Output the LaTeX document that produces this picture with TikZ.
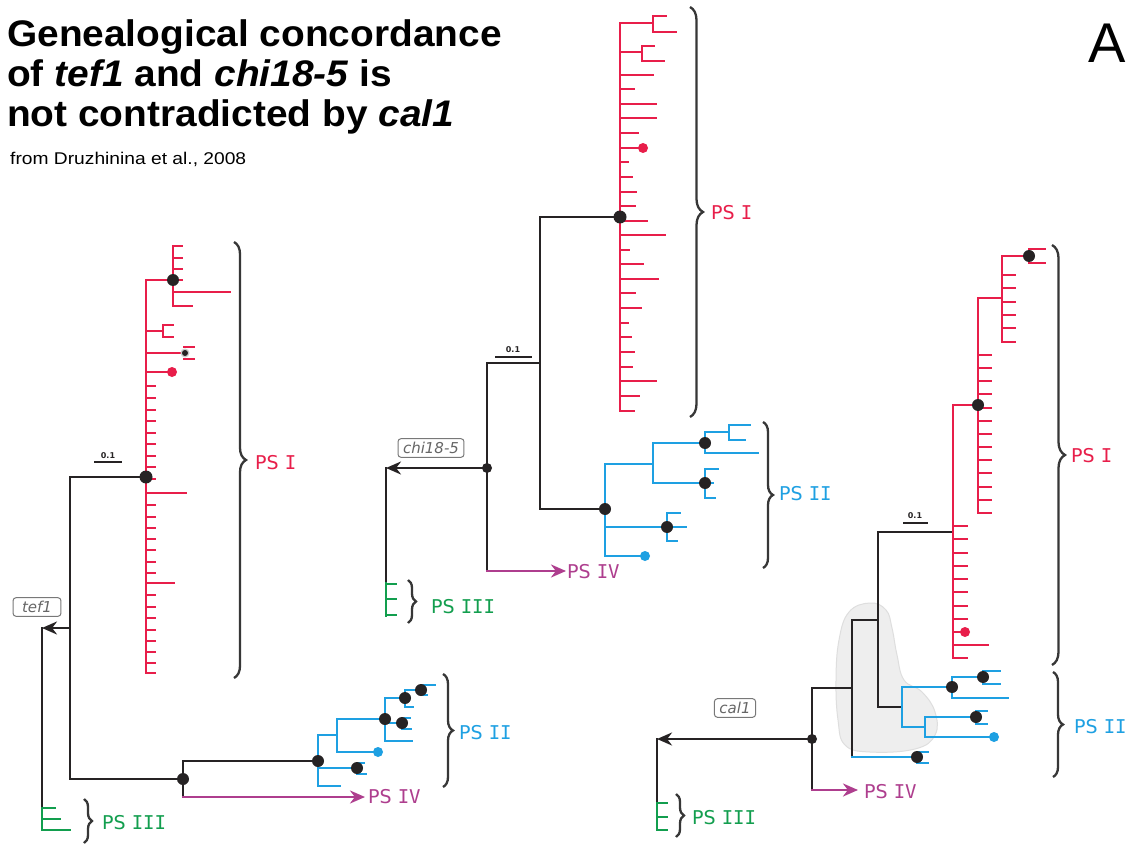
\documentclass[tikz,border=0pt]{standalone}
\usepackage{fontspec}
\setmainfont{Liberation Sans}
\newfontfamily\psfont[ItalicFont={DejaVu Sans Oblique},BoldFont={DejaVu Sans Bold}]{DejaVu Sans}
\newfontfamily\psmono{DejaVu Sans Mono}
\usetikzlibrary{arrows.meta,decorations.pathreplacing}
\definecolor{psred}{RGB}{232,30,74}
\definecolor{psblue}{RGB}{30,160,226}
\definecolor{psgreen}{RGB}{18,158,78}
\definecolor{pspurple}{RGB}{174,62,142}
\definecolor{ink}{RGB}{38,35,36}
\definecolor{brk}{RGB}{55,55,55}
\definecolor{boxgray}{RGB}{120,120,120}
\definecolor{blobfill}{RGB}{238,238,238}
\definecolor{blobline}{RGB}{222,222,222}
\newcommand{\psl}[1]{{\psfont PS }{\psmono #1}}
\tikzset{
  tree/.style={line width=2.8pt, line cap=rect, line join=miter},
  blk/.style={tree, draw=ink},
  rd/.style={tree, draw=psred},
  bl/.style={tree, draw=psblue},
  gr/.style={tree, draw=psgreen},
  pu/.style={tree, draw=pspurple},
  arr/.style={-{Stealth[length=15pt,width=13pt]}},
  brc/.style={draw=brk, line width=2.3pt, decorate, decoration={brace, amplitude=#1}},
  pslab/.style={anchor=west, inner sep=0pt, font=\fontsize{19}{19}\selectfont},
  genebox/.style={draw=boxgray, rounded corners=3pt, line width=1pt, text=boxgray!85!black,
     font=\psfont\itshape\fontsize{15}{15}\selectfont, inner xsep=5pt, inner ysep=3.5pt},
  titl/.style={anchor=base west, inner sep=0pt, font=\fontsize{37}{37}\selectfont\bfseries, xscale=1.05, transform shape},
  scl/.style={font=\psfont\bfseries\fontsize{8}{8}\selectfont, text=ink, inner sep=0pt},
}
\newcommand{\bdot}[2]{\fill[ink] (#1,#2) circle (6pt);}
\newcommand{\sdot}[2]{\fill[ink] (#1,#2) circle (5pt);}
\begin{document}
\begin{tikzpicture}[x=1pt,y=-1pt]
\useasboundingbox (0,0) rectangle (1133,845);
\fill[white] (0,0) rectangle (1133,845);

% ---------- title
\node[titl] (t1) at (7,47) {Genealogical concordance};
\node[titl] (t2) at (7,87) {of \textit{tef1} and \textit{chi18-5} is};
\node[titl] (t3) at (7,127) {not contradicted by \textit{cal1}};
\node[anchor=base west, inner sep=0pt, font=\fontsize{17}{17}\selectfont, xscale=1.13, transform shape] (t4) at (10,165) {from Druzhinina et al., 2008};
\node[anchor=base west, inner sep=0pt, font=\fontsize{56}{56}\selectfont] (panel) at (1088,63) {A};

% ---------- gray blob (right tree)
\filldraw[fill=blobfill, draw=blobline, line width=1pt] plot[smooth cycle, tension=0.7] coordinates {(870,603) (886,610) (892,628) (897,655) (904,680) (922,692) (935,712) (935,735) (915,749) (870,752) (845,745) (838,720) (836,680) (839,640) (849,612)};

% =========== LEFT TREE (tef1)
\coordinate (Lroot) at (70,628);
\coordinate (Lpsi) at (146,477);
\coordinate (Lb) at (183,779);
\coordinate (Lii) at (318,761);
\coordinate (Lend) at (42,628);
\draw[blk] (Lpsi) -| (70,779) -- (Lb);
\draw[blk] (183,761) -- (183,797);
\draw[blk] (183,761) -- (Lii);
\draw[blk, arr] (Lroot) -- (42,628);
\draw[blk] (Lend) -- (42,808);
\draw[gr] (42,808) -- (42,830);
\foreach \y/\e in {808/55, 819/60, 830/70} \draw[gr] (42,\y) -- (\e,\y);
\draw[pu, arr] (183,797) -- (365,797);
% red clade
\draw[rd] (146,280) -- (146,673);
\draw[rd] (146,280) -- (182,280);
\draw[rd] (173,246) -- (173,306);
\foreach \y/\e in {246/182,258/182,269/182,292/230,306/192} \draw[rd] (173,\y) -- (\e,\y);
\draw[rd] (146,331) -- (163,331) (163,325) -- (163,337) (163,325) -- (173,325) (163,337) -- (173,337);
\draw[rd] (146,353) -- (184,353);
\draw[rd, line width=2pt] (184,347) -- (194,347) (184,359) -- (194,359);
\fill[gray!40] (185,353) circle (4.5pt);
\fill[ink] (185,353) circle (3pt);
\draw[rd] (146,372) -- (170,372);
\fill[psred] (172,372) circle (5pt);
\foreach \y/\e in {386/155,398/155,410/155,421/155,433/155,444/155,456/155,467/155,479/155,493/186,505/155,517/155,528/155,539/155,550/155,562/155,573/155,583/174,595/155,607/155,618/155,630/155,641/155,652/155,663/155,673/155}
  \draw[rd] (146,\y) -- (\e,\y);
\bdot{173}{280}
\fill[ink] (Lpsi) circle (6.5pt);
\draw[ink, line width=1.5pt] (94,462) -- (122,462);
\node[scl] (Ls) at (108,456) {0.1};
% blue clade
\draw[bl] (318,735) -- (318,786);
\draw[bl] (318,735) -- (337,735) (337,719) -- (337,752);
\draw[bl] (337,719) -- (385,719) (385,698) -- (385,741);
\draw[bl] (385,698) -- (405,698) (405,690) -- (405,707);
\draw[bl] (405,690) -- (421,690) (421,685) -- (421,695) (421,685) -- (435,685) (421,695) -- (427,695);
\draw[bl] (405,707) -- (413,707);
\draw[bl] (385,723) -- (402,723) (402,718) -- (402,729) (402,718) -- (410,718) (402,729) -- (411,729);
\draw[bl] (385,741) -- (412,741);
\draw[bl] (337,752) -- (376,752);
\fill[psblue] (378,752) circle (5pt);
\draw[bl] (318,768) -- (357,768) (357,763) -- (357,774) (357,763) -- (364,763) (357,774) -- (366,774);
\draw[bl] (318,786) -- (340,786);
\bdot{183}{779} \bdot{318}{761} \bdot{385}{719} \bdot{405}{698} \bdot{421}{690} \bdot{402}{723} \bdot{357}{768}
% labels
\node[genebox, inner xsep=9pt] (g1) at (37,607) {tef1};
\draw[brc=12] (234,242) -- (234,678);
\node[pslab, text=psred] (L1) at (255,463) {\psl{I}};
\draw[brc=10] (443,674) -- (443,787);
\node[pslab, text=psblue] (L2) at (459,733) {\psl{II}};
\node[pslab, text=pspurple] (L4) at (368,797) {\psl{IV}};
\draw[brc=8] (84,799) -- (84,843);
\node[pslab, text=psgreen] (L3) at (102,823) {\psl{III}};

% =========== MIDDLE TREE (chi18-5)
\coordinate (Mpsi) at (620,217);
\coordinate (Mii) at (605,509);
\coordinate (Mroot) at (487,468);
\draw[blk] (Mpsi) -- (540,217) -- (540,509) -- (Mii);
\draw[blk] (540,363) -- (487,363) -- (487,571);
\draw[blk, arr] (Mroot) -- (386,468);
\draw[blk] (386,468) -- (386,583);
\draw[gr] (386,583) -- (386,616);
\foreach \y in {584,599,615} \draw[gr] (386,\y) -- (396,\y);
\draw[pu, arr] (487,571) -- (566,571);
% red clade
\draw[rd] (620,23) -- (620,411);
\draw[rd] (620,23) -- (653,23) (653,16) -- (653,32) (653,16) -- (666,16) (653,32) -- (676,32);
\draw[rd] (620,52) -- (642,52) (642,46) -- (642,61) (642,46) -- (654,46) (642,61) -- (664,61);
\foreach \y/\e in {75/653,89/634,104/656,118/656,133/638,162/628,177/632,192/636,206/635,221/647,235/665,250/629,264/643,279/658,293/635,308/641,323/628,337/631,352/634,367/632,381/656,396/639,411/634}
  \draw[rd] (620,\y) -- (\e,\y);
\draw[rd] (620,148) -- (641,148);
\fill[psred] (643,148) circle (5pt);
\fill[ink] (Mpsi) circle (6.5pt);
\draw[ink, line width=1.5pt] (495,357) -- (532,357);
\node[scl] (Ms) at (513,350) {0.1};
% blue clade
\draw[bl] (605,464) -- (605,556);
\draw[bl] (605,464) -- (653,464) (653,443) -- (653,483);
\draw[bl] (653,443) -- (705,443) (705,432) -- (705,453);
\draw[bl] (705,432) -- (729,432) (729,425) -- (729,440) (729,425) -- (750,425) (729,440) -- (745,440);
\draw[bl] (705,453) -- (758,453);
\draw[bl] (653,483) -- (705,483) (705,469) -- (705,498) (705,469) -- (718,469) (705,483) -- (713,483) (705,498) -- (715,498);
\draw[bl] (605,527) -- (686,527) (667,513) -- (667,541) (667,513) -- (680,513) (667,541) -- (677,541);
\draw[bl] (605,556) -- (643,556);
\fill[psblue] (645,556) circle (5pt);
\bdot{605}{509} \bdot{705}{443} \bdot{705}{483} \bdot{667}{527}
\sdot{487}{468}
% labels
\node[genebox] (g2) at (431,448) {chi18-5};
\draw[brc=13] (690,7) -- (690,417);
\node[pslab, text=psred] (M1) at (711,213) {\psl{I}};
\draw[brc=10] (763,422) -- (763,568);
\node[pslab, text=psblue] (M2) at (779,494) {\psl{II}};
\node[pslab, text=pspurple] (M4) at (567,572) {\psl{IV}};
\draw[brc=8] (408,580) -- (408,623);
\node[pslab, text=psgreen] (M3) at (431,607) {\psl{III}};

% =========== RIGHT TREE (cal1)
\coordinate (Rpsi) at (953,532);
\coordinate (Rii) at (902,707);
\coordinate (Rroot) at (812,739);
\draw[blk] (Rpsi) -- (878,532) -- (878,707) -- (Rii);
\draw[blk] (878,620) -- (852,620) -- (852,757);
\draw[blk] (852,688) -- (812,688) -- (812,790);
\draw[blk, arr] (Rroot) -- (657,739);
\draw[blk] (657,739) -- (657,803);
\draw[gr] (657,803) -- (657,830);
\foreach \y in {803,817,830} \draw[gr] (657,\y) -- (667,\y);
\draw[pu, arr] (812,790) -- (858,790);
% red clade
\draw[rd] (953,405) -- (953,658);
\draw[rd] (953,405) -- (978,405) (978,298) -- (978,513);
\draw[rd] (978,298) -- (1002,298) (1002,256) -- (1002,342);
\draw[rd] (1002,256) -- (1029,256) (1029,249) -- (1029,263) (1029,249) -- (1045,249) (1029,263) -- (1045,263);
\foreach \y in {275,288,302,315,328,342} \draw[rd] (1002,\y) -- (1015,\y);
\foreach \y in {355,368,381,394,408,421,434,447,460,473,487,500,513} \draw[rd] (978,\y) -- (991,\y);
\foreach \y/\e in {526/967,539/967,553/967,566/967,579/967,592/967,606/967,619/967,645/988,658/967} \draw[rd] (953,\y) -- (\e,\y);
\draw[rd] (953,632) -- (963,632);
\fill[psred] (965,632) circle (5pt);
\bdot{978}{405} \bdot{1029}{256}
\draw[ink, line width=1.5pt] (903,523) -- (928,523);
\node[scl] (Rs) at (915,516) {0.1};
% blue clade
\draw[bl] (902,687) -- (902,727);
\draw[bl] (902,687) -- (952,687) (952,677) -- (952,698);
\draw[bl] (952,677) -- (983,677) (983,671) -- (983,684) (983,671) -- (1000,671) (983,684) -- (1000,684);
\draw[bl] (952,698) -- (1008,698);
\draw[bl] (902,727) -- (925,727) (925,717) -- (925,737);
\draw[bl] (925,717) -- (976,717) (976,711) -- (976,724) (976,711) -- (987,711) (976,724) -- (987,724);
\draw[bl] (925,737) -- (992,737);
\fill[psblue] (994,737) circle (5pt);
\draw[bl] (852,757) -- (917,757) (917,752) -- (917,763) (917,752) -- (928,752) (917,763) -- (928,763);
\bdot{952}{687} \bdot{983}{677} \bdot{976}{717} \bdot{917}{757}
\sdot{812}{739}
% labels
\node[genebox] (g3) at (735,708) {cal1};
\draw[brc=13] (1052,245) -- (1052,665);
\node[pslab, text=psred] (R1) at (1071,456) {\psl{I}};
\draw[brc=10] (1053,672) -- (1053,777);
\node[pslab, text=psblue] (R2) at (1074,727) {\psl{II}};
\node[pslab, text=pspurple] (R4) at (864,792) {\psl{IV}};
\draw[brc=8] (676,794) -- (676,837);
\node[pslab, text=psgreen] (R3) at (692,818) {\psl{III}};
\end{tikzpicture}
\end{document}
